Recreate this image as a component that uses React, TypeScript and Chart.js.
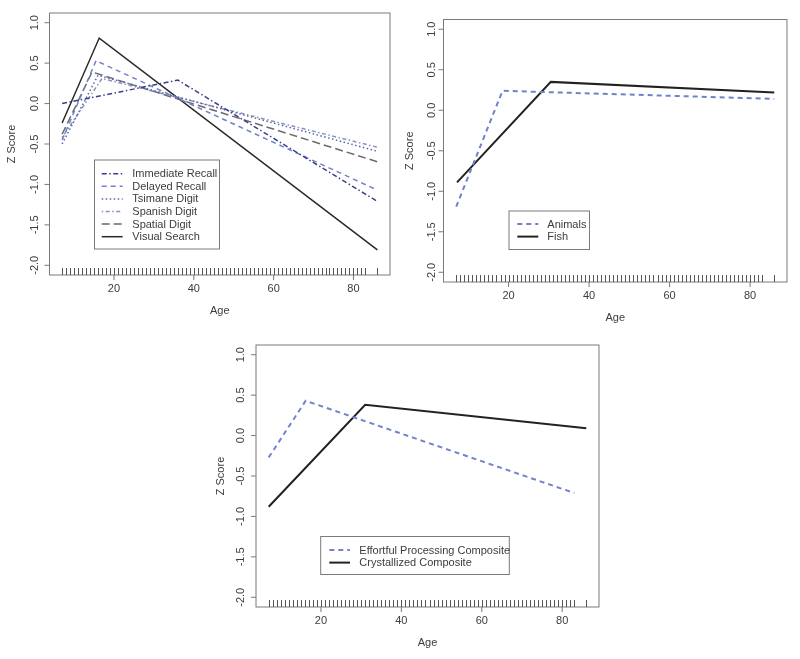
import React, { useEffect, useRef } from 'react';
import { Chart, registerables } from 'chart.js';

Chart.register(...registerables);

// ---------- axes ----------
const yTickValues = [-2, -1.5, -1, -0.5, 0, 0.5, 1];
const yTickLabels = ['-2.0', '-1.5', '-1.0', '-0.5', '0.0', '0.5', '1.0'];
const xTickValues = [20, 40, 60, 80];
const xTickLabels = ['20', '40', '60', '80'];
const rugAges = [
  7, 8, 9, 10, 11, 12, 13, 14, 15, 16, 17, 18, 19, 20, 21, 22, 23, 24, 25, 26,
  27, 28, 29, 30, 31, 32, 33, 34, 35, 36, 37, 38, 39, 40, 41, 42, 43, 44, 45, 46,
  47, 48, 49, 50, 51, 52, 53, 54, 55, 56, 57, 58, 59, 60, 61, 62, 63, 64, 65, 66,
  67, 68, 69, 70, 71, 72, 73, 74, 75, 76, 77, 78, 79, 80, 81, 82, 83, 86,
];

// ---------- panel 1 ----------
const immediateRecallAge = [7, 36, 86];
const immediateRecallZ = [0.0, 0.29, -1.21];
const delayedRecallAge = [7, 15.5, 86];
const delayedRecallZ = [-0.45, 0.53, -1.07];
const tsimaneDigitAge = [7, 16, 86];
const tsimaneDigitZ = [-0.5, 0.35, -0.59];
const spanishDigitAge = [7, 17, 86];
const spanishDigitZ = [-0.42, 0.31, -0.54];
const spatialDigitAge = [7, 14.5, 86];
const spatialDigitZ = [-0.38, 0.39, -0.72];
const visualSearchAge = [7, 16.3, 86];
const visualSearchZ = [-0.24, 0.81, -1.81];

// ---------- panel 2 ----------
const animalsAge = [7, 18.5, 86];
const animalsZ = [-1.19, 0.24, 0.14];
const fishAge = [7.2, 30.5, 86];
const fishZ = [-0.89, 0.35, 0.22];

// ---------- panel 3 ----------
const effortfulAge = [7, 16.2, 83];
const effortfulZ = [-0.27, 0.43, -0.71];
const crystallizedAge = [7, 31, 86];
const crystallizedZ = [-0.88, 0.38, 0.09];

const FONT = '"Liberation Sans", Arial, Helvetica, sans-serif';
const TEXT = '#3c3c3c';
const FRAME = '#7a7a7a';

type Series = { label: string; ages: number[]; z: number[]; color: string; dash: number[]; width: number };
type Panel = {
  box: { left: number; top: number; right: number; bottom: number };
  yLabelX: number;
  zTitleX: number;
  legend: { x: number; y: number; w: number; h: number; row0: number; step: number; s0: number; s1: number; tx: number };
  series: Series[];
};

const panels: Panel[] = [
  {
    box: { left: 49.5, top: 13, right: 390, bottom: 275 },
    yLabelX: 35,
    zTitleX: 12,
    legend: { x: 94.5, y: 160, w: 125, h: 89, row0: 173.7, step: 12.6, s0: 101.7, s1: 122.7, tx: 132.3 },
    series: [
      { label: 'Immediate Recall', ages: immediateRecallAge, z: immediateRecallZ, color: '#3b3f8c', dash: [5, 2.5, 1.5, 2.5], width: 1.5 },
      { label: 'Delayed Recall', ages: delayedRecallAge, z: delayedRecallZ, color: '#6f82c8', dash: [5, 4], width: 1.5 },
      { label: 'Tsimane Digit', ages: tsimaneDigitAge, z: tsimaneDigitZ, color: '#5565b5', dash: [1.5, 2.5], width: 1.5 },
      { label: 'Spanish Digit', ages: spanishDigitAge, z: spanishDigitZ, color: '#8d93b8', dash: [1.5, 2.5, 4, 2.5], width: 1.5 },
      { label: 'Spatial Digit', ages: spatialDigitAge, z: spatialDigitZ, color: '#6a6a6a', dash: [8, 4], width: 1.5 },
      { label: 'Visual Search', ages: visualSearchAge, z: visualSearchZ, color: '#2a2a2a', dash: [], width: 1.5 },
    ],
  },
  {
    box: { left: 443.5, top: 19.5, right: 787, bottom: 282 },
    yLabelX: 431.5,
    zTitleX: 410,
    legend: { x: 509, y: 211, w: 80.5, h: 38.5, row0: 224, step: 12.6, s0: 517.3, s1: 538.3, tx: 547.3 },
    series: [
      { label: 'Animals', ages: animalsAge, z: animalsZ, color: '#6f82c8', dash: [5, 4], width: 2 },
      { label: 'Fish', ages: fishAge, z: fishZ, color: '#222222', dash: [], width: 2 },
    ],
  },
  {
    box: { left: 256, top: 345, right: 599, bottom: 607 },
    yLabelX: 241,
    zTitleX: 220.5,
    legend: { x: 320.7, y: 536.5, w: 188.6, h: 38, row0: 550, step: 12.6, s0: 329.3, s1: 350, tx: 359.3 },
    series: [
      { label: 'Effortful Processing Composite', ages: effortfulAge, z: effortfulZ, color: '#7484cc', dash: [5, 4], width: 2 },
      { label: 'Crystallized Composite', ages: crystallizedAge, z: crystallizedZ, color: '#222222', dash: [], width: 2 },
    ],
  },
];

const W = 800;
const H = 659;

function makeConfig(p: Panel): any {
  const rPlot = {
    id: 'rPlot',
    afterDraw(chart: any) {
      const ctx = chart.ctx as CanvasRenderingContext2D;
      const xs = chart.scales.x;
      const ys = chart.scales.y;
      const a = chart.chartArea;
      ctx.save();
      // frame
      ctx.strokeStyle = FRAME;
      ctx.lineWidth = 1;
      ctx.setLineDash([]);
      ctx.strokeRect(a.left, a.top, a.right - a.left, a.bottom - a.top);
      // y ticks
      ctx.fillStyle = TEXT;
      ctx.font = `11px ${FONT}`;
      ctx.textAlign = 'center';
      ctx.textBaseline = 'middle';
      yTickValues.forEach((v, i) => {
        const y = ys.getPixelForValue(v);
        ctx.beginPath();
        ctx.moveTo(a.left, y);
        ctx.lineTo(a.left - 5, y);
        ctx.stroke();
        ctx.save();
        ctx.translate(p.yLabelX, y);
        ctx.rotate(-Math.PI / 2);
        ctx.fillText(yTickLabels[i], 0, 0);
        ctx.restore();
      });
      // x ticks
      xTickValues.forEach((v, i) => {
        const x = xs.getPixelForValue(v);
        ctx.beginPath();
        ctx.moveTo(x, a.bottom);
        ctx.lineTo(x, a.bottom + 5);
        ctx.stroke();
        ctx.fillText(xTickLabels[i], x, a.bottom + 14);
      });
      // rug
      ctx.strokeStyle = '#555';
      rugAges.forEach((v) => {
        const x = Math.round(xs.getPixelForValue(v)) + 0.5;
        ctx.beginPath();
        ctx.moveTo(x, a.bottom);
        ctx.lineTo(x, a.bottom - 7);
        ctx.stroke();
      });
      // axis titles
      ctx.fillText('Age', (a.left + a.right) / 2, a.bottom + 36);
      ctx.save();
      ctx.translate(p.zTitleX, (a.top + a.bottom) / 2);
      ctx.rotate(-Math.PI / 2);
      ctx.fillText('Z Score', 0, 0);
      ctx.restore();
      // legend
      const L = p.legend;
      ctx.fillStyle = '#ffffff';
      ctx.fillRect(L.x, L.y, L.w, L.h);
      ctx.strokeStyle = FRAME;
      ctx.strokeRect(L.x, L.y, L.w, L.h);
      ctx.textAlign = 'left';
      p.series.forEach((s, i) => {
        const y = L.row0 + i * L.step;
        ctx.strokeStyle = s.color;
        ctx.lineWidth = s.width;
        ctx.setLineDash(s.dash);
        ctx.beginPath();
        ctx.moveTo(L.s0, y);
        ctx.lineTo(L.s1, y);
        ctx.stroke();
        ctx.setLineDash([]);
        ctx.fillStyle = TEXT;
        ctx.fillText(s.label, L.tx, y + 0.5);
      });
      ctx.restore();
    },
  };

  return {
    type: 'scatter',
    data: {
      datasets: p.series.map((s) => ({
        label: s.label,
        data: s.ages.map((x, i) => ({ x, y: s.z[i] })),
        showLine: true,
        borderColor: s.color,
        backgroundColor: s.color,
        borderWidth: s.width,
        borderDash: s.dash,
        pointRadius: 0,
        tension: 0,
        fill: false,
      })),
    },
    options: {
      animation: false,
      responsive: false,
      maintainAspectRatio: false,
      devicePixelRatio: 1,
      events: [],
      layout: {
        padding: { left: p.box.left, top: p.box.top, right: W - p.box.right, bottom: H - p.box.bottom },
      },
      scales: {
        x: { type: 'linear', min: 3.84, max: 89.16, display: false },
        y: { type: 'linear', min: -2.12, max: 1.12, display: false },
      },
      plugins: { legend: { display: false }, tooltip: { enabled: false } },
    },
    plugins: [rPlot],
  };
}

function PanelCanvas({ panel }: { panel: Panel }) {
  const ref = useRef<HTMLCanvasElement | null>(null);
  useEffect(() => {
    if (!ref.current) return;
    const chart = new Chart(ref.current, makeConfig(panel));
    return () => chart.destroy();
  }, [panel]);
  return (
    <canvas
      ref={ref}
      width={W}
      height={H}
      style={{ position: 'absolute', left: 0, top: 0, width: W, height: H }}
    />
  );
}

export default function App() {
  return (
    <div style={{ position: 'fixed', left: 0, top: 0, width: W, height: H, background: '#ffffff' }}>
      {panels.map((p, i) => (
        <PanelCanvas key={i} panel={p} />
      ))}
    </div>
  );
}
